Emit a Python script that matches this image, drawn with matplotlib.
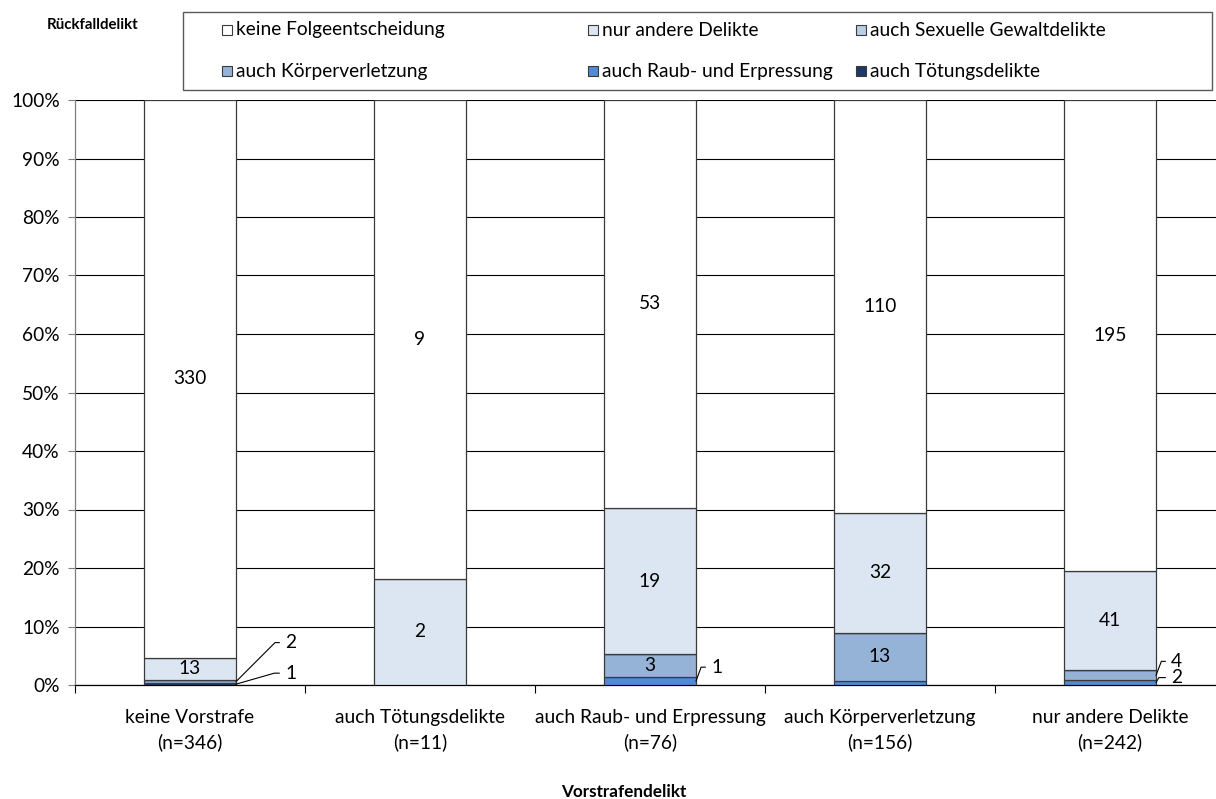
import matplotlib
matplotlib.use("Agg")
import matplotlib.pyplot as plt
from matplotlib.patches import Rectangle
import numpy as np

plt.rcParams['font.family'] = ['Lato', 'DejaVu Sans']

# ---------------- data ----------------
categories = ["keine Vorstrafe\n(n=346)", "auch Tötungsdelikte\n(n=11)",
              "auch Raub- und Erpressung\n(n=76)", "auch Körperverletzung\n(n=156)",
              "nur andere Delikte\n(n=242)"]
series_names = ["keine Folgeentscheidung", "nur andere Delikte", "auch Sexuelle Gewaltdelikte",
                "auch Körperverletzung", "auch Raub- und Erpressung", "auch Tötungsdelikte"]
keine = [330, 9, 53, 110, 195]
nur_andere = [13, 2, 19, 32, 41]
sexuell = [0, 0, 0, 0, 0]
koerper = [2, 0, 3, 13, 4]
raub = [0, 0, 1, 1, 2]
toetung = [1, 0, 0, 0, 0]
y_ticks = [0, 10, 20, 30, 40, 50, 60, 70, 80, 90, 100]

colors = {"keine Folgeentscheidung": "#ffffff",
          "nur andere Delikte": "#dce6f2",
          "auch Sexuelle Gewaltdelikte": "#b9cde5",
          "auch Körperverletzung": "#95b3d7",
          "auch Raub- und Erpressung": "#4f8bd6",
          "auch Tötungsdelikte": "#1f3864"}

values = {"keine Folgeentscheidung": keine, "nur andere Delikte": nur_andere,
          "auch Sexuelle Gewaltdelikte": sexuell, "auch Körperverletzung": koerper,
          "auch Raub- und Erpressung": raub, "auch Tötungsdelikte": toetung}
stack_order = ["auch Tötungsdelikte", "auch Raub- und Erpressung", "auch Körperverletzung",
               "auch Sexuelle Gewaltdelikte", "nur andere Delikte", "keine Folgeentscheidung"]

# leader-line labels: (series, bar) -> (dx px, dy px, elbow angle)
outside = {("auch Körperverletzung", 0): (49, 39, 45),
           ("auch Tötungsdelikte", 0): (49, 11, 16),
           ("auch Raub- und Erpressung", 2): (15, 14, 70),
           ("auch Körperverletzung", 4): (15, 14, 69),
           ("auch Raub- und Erpressung", 4): (15, 5, 60)}
hidden = {("auch Raub- und Erpressung", 3)}

FS = 13.8
W, H = 1216, 799
fig = plt.figure(figsize=(W / 100, H / 100), dpi=100)
ax = fig.add_axes([75 / W, 1 - 685 / H, 1150 / W, 585 / H])

x = np.arange(len(categories))
totals = np.array([sum(values[s][i] for s in series_names) for i in range(len(categories))])
width = 0.4
px2pt = 0.72

bottom = np.zeros(len(categories))
for s in stack_order:
    v = np.array(values[s], dtype=float)
    pct = v / totals * 100
    ax.bar(x, pct, width, bottom=bottom, color=colors[s], edgecolor="#3a3a3a",
           linewidth=0.9, zorder=3)
    for i in range(len(categories)):
        if v[i] == 0 or (s, i) in hidden:
            continue
        mid = bottom[i] + pct[i] / 2
        if (s, i) in outside:
            dx, dy, ang = outside[(s, i)]
            ax.annotate(str(int(v[i])), xy=(x[i] + width / 2, mid),
                        xytext=(dx * px2pt, dy * px2pt), textcoords="offset points",
                        ha="left", va="center", fontsize=FS,
                        arrowprops=dict(arrowstyle="-", color="black", lw=0.8,
                                        relpos=(0, 0.5), shrinkA=2, shrinkB=0,
                                        connectionstyle=f"angle,angleA=0,angleB={ang},rad=0"),
                        zorder=5, annotation_clip=False)
        else:
            ax.text(x[i], mid, str(int(v[i])), ha="center", va="center",
                    fontsize=FS, zorder=5)
    bottom += pct

ax.set_xlim(-0.5, len(categories) - 0.5)
ax.set_ylim(0, 100)
ax.set_yticks(y_ticks)
ax.set_yticklabels([f"{t}%" for t in y_ticks], fontsize=FS)
ax.yaxis.grid(True, color="black", linewidth=0.8, zorder=0)
ax.set_axisbelow(True)
ax.tick_params(axis="y", direction="out", length=5, width=0.8, color="#7f7f7f", pad=6)

ax.set_xticks(x)
ax.set_xticklabels(categories, fontsize=FS, linespacing=1.5)
ax.tick_params(axis="x", which="major", length=0, pad=17)
ax.set_xticks(np.arange(-0.5, len(categories), 1.0), minor=True)
ax.tick_params(axis="x", which="minor", direction="out", length=6, width=0.8, color="black")

for sp in ["top", "right"]:
    ax.spines[sp].set_visible(False)
ax.spines["left"].set_color("#7f7f7f")
ax.spines["left"].set_linewidth(0.9)
ax.spines["bottom"].set_color("black")
ax.spines["bottom"].set_linewidth(0.9)

# titles
fig.text(93 / W, 1 - 25 / H, "Rückfalldelikt", ha="center", va="center",
         fontsize=10.8, fontweight="bold")
fig.text(624 / W, 1 - 792 / H, "Vorstrafendelikt", ha="center", va="center",
         fontsize=12.3, fontweight="bold")

# legend (manual, Excel-like)
fig.patches.append(Rectangle((183 / W, 1 - 90 / H), (1212 - 183) / W, 78 / H,
                             transform=fig.transFigure, fill=False,
                             edgecolor="#595959", linewidth=1.0))
col_x = [222, 588, 856]
row_y = [30, 71]
legend_layout = [["keine Folgeentscheidung", "nur andere Delikte", "auch Sexuelle Gewaltdelikte"],
                 ["auch Körperverletzung", "auch Raub- und Erpressung", "auch Tötungsdelikte"]]
sq = 10
for r, row in enumerate(legend_layout):
    for c, name in enumerate(row):
        fig.patches.append(Rectangle((col_x[c] / W, 1 - (row_y[r] + sq / 2) / H), sq / W, sq / H,
                                     transform=fig.transFigure, facecolor=colors[name],
                                     edgecolor="#3a3a3a", linewidth=0.8))
        fig.text((col_x[c] + sq + 4) / W, 1 - row_y[r] / H, name, ha="left", va="center",
                 fontsize=FS)

fig.savefig("out.png", dpi=100)
